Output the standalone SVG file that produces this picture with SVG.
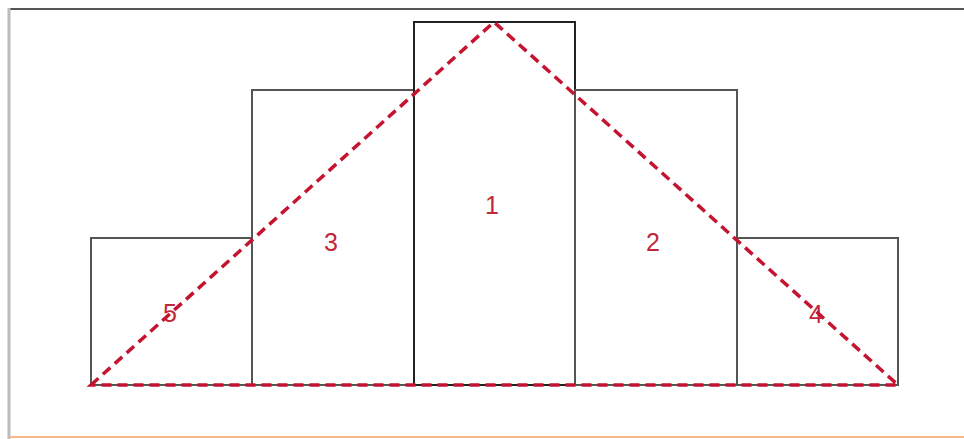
<svg xmlns="http://www.w3.org/2000/svg" width="964" height="439" viewBox="0 0 964 439">
<style>
.box{fill:none;stroke:#555;stroke-width:2}
.box1{fill:none;stroke:#222;stroke-width:2}
.lbl{font-family:"Liberation Sans",Arial,sans-serif;font-size:25px;fill:#c0283a;text-anchor:middle}
.tri{fill:none;stroke:#c4142f;stroke-width:3.5;stroke-dasharray:10,6}
</style>
<rect x="0" y="0" width="964" height="439" fill="#fff"/>
<line x1="8" y1="9" x2="964" y2="9" stroke="#555" stroke-width="2"/>
<line x1="9" y1="8" x2="9" y2="439" stroke="#bbb" stroke-width="3"/>
<line x1="9" y1="437" x2="964" y2="437" stroke="#f8b68a" stroke-width="2"/>
<g id="node5"><rect class="box" x="91" y="238" width="161" height="147"/><text class="lbl" x="170" y="322">5</text></g>
<g id="node3"><rect class="box" x="252" y="90" width="162" height="295"/><text class="lbl" x="331" y="251">3</text></g>
<g id="node1"><rect class="box1" x="414" y="22" width="161" height="363"/><text class="lbl" x="492" y="214">1</text></g>
<g id="node2"><rect class="box" x="575" y="90" width="162" height="295"/><text class="lbl" x="653" y="251">2</text></g>
<g id="node4"><rect class="box" x="737" y="238" width="161" height="147"/><text class="lbl" x="816" y="323">4</text></g>
<g id="connectors">
<path class="tri" d="M91,385 L494,22 L898,385 Z"/>
</g>
</svg>
